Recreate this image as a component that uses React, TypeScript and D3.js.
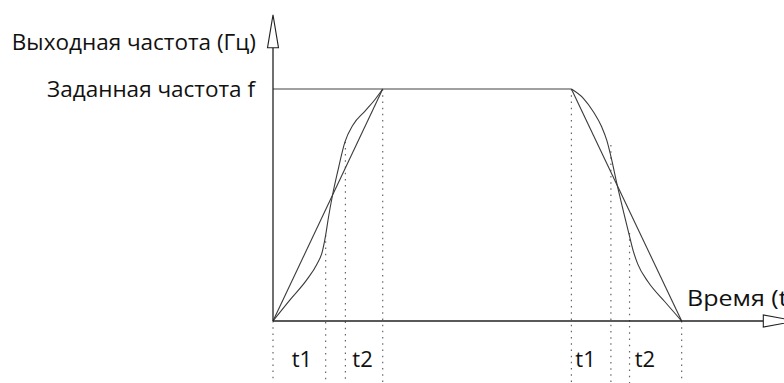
import React from 'react';
import * as d3 from 'd3';

// constants
const width = 784;
const height = 383;
const font = "'Open Sans', 'Liberation Sans', sans-serif";

// S-curve ramp, time units / % of set frequency
const riseTime = [0, 1.55, 3.07, 4.0, 4.5, 4.8, 5.05, 5.42, 5.9, 6.56, 7.29, 8.39, 9.3, 10];
const riseFreq = [0, 9.1, 17.7, 24.5, 30, 37, 44.5, 54.1, 64.5, 77.2, 84.5, 90.5, 95.5, 100];
const fallTime = [27.2, 28.29, 29.2, 29.96, 30.42, 30.88, 31.33, 31.93, 32.5, 32.85, 33.25, 34.2, 35.7, 37.25];
const fallFreq = [100, 96.0, 90.2, 83.7, 78.0, 69.4, 59.5, 47.5, 36.5, 30, 24.5, 16.8, 8.4, 0];

// straight (linear) ramps
const linRiseTime = [0, 10];
const linRiseFreq = [0, 100];
const linFallTime = [27.2, 37.25];
const linFallFreq = [100, 0];

// plateau at the set frequency
const plateauTime = [0, 27.2];
const setFreq = 100;

// dotted guides: where they start
const guideTime = [0, 4.8, 6.6, 10, 27.2, 30.8, 32.5, 37.25];
const guideFrom = [0, 37, 77.3, 100, 100, 75.9, 37.9, 0];

// phase labels
const phaseLabels = ['t1', 't2', 't1', 't2'];
const phaseTime = [2.64, 8.16, 28.49, 33.9];

const yTitle = 'Выходная частота (Гц)';
const setLabel = 'Заданная частота f';
const xTitle = 'Время (t)';

const App = () => {
  // scales
  const x = d3.scaleLinear().domain([0, 47.7]).range([273, 796.3]);
  const y = d3.scaleLinear().domain([0, 132]).range([321, 14.8]);

  const line = d3.line<[number, number]>()
    .x(d => x(d[0]))
    .y(d => y(d[1]));
  const smooth = d3.line<[number, number]>()
    .x(d => x(d[0]))
    .y(d => y(d[1]))
    .curve(d3.curveMonotoneX);

  const zip = (a: number[], b: number[]) => a.map((v, i) => [v, b[i]] as [number, number]);

  const x0 = x(0), y0 = y(0);
  const xEnd = x.range()[1], yEnd = y.range()[1];
  const arrowLen = 33, arrowHalf = 5.5;

  return (
    <svg width={width} height={height}
      style={{ position: 'absolute', left: 0, top: 0, background: '#fff' }}>
      {/* dotted guides */}
      {guideTime.map((t, i) => (
        <line key={'g' + i} x1={x(t)} x2={x(t)} y1={y(guideFrom[i])} y2={height}
          stroke="#666" strokeWidth={1.2} strokeDasharray="1.5,4.7" />
      ))}

      {/* plateau */}
      <line x1={x(plateauTime[0])} x2={x(plateauTime[1])} y1={y(setFreq)} y2={y(setFreq)}
        stroke="#808080" strokeWidth={1.6} />

      {/* linear ramps */}
      <path d={line(zip(linRiseTime, linRiseFreq)) || ''} fill="none" stroke="#3a3a3a" strokeWidth={1.1} />
      <path d={line(zip(linFallTime, linFallFreq)) || ''} fill="none" stroke="#3a3a3a" strokeWidth={1.1} />

      {/* S-curves */}
      <path d={smooth(zip(riseTime, riseFreq)) || ''} fill="none" stroke="#3a3a3a" strokeWidth={1.1} />
      <path d={smooth(zip(fallTime, fallFreq)) || ''} fill="none" stroke="#3a3a3a" strokeWidth={1.1} />

      {/* axes */}
      <line x1={x0} x2={x0} y1={y0} y2={yEnd + arrowLen} stroke="#222" strokeWidth={1.3} />
      <polygon points={`${x0},${yEnd} ${x0 - arrowHalf},${yEnd + arrowLen} ${x0 + arrowHalf},${yEnd + arrowLen}`}
        fill="#fff" stroke="#222" strokeWidth={1.1} />
      <line x1={x0} x2={xEnd - arrowLen} y1={y0} y2={y0} stroke="#222" strokeWidth={1.3} />
      <polygon points={`${xEnd},${y0} ${xEnd - arrowLen},${y0 - arrowHalf - 0.5} ${xEnd - arrowLen},${y0 + arrowHalf + 0.5}`}
        fill="#fff" stroke="#222" strokeWidth={1.1} />

      {/* texts */}
      <g fontFamily={font} fontSize={22.5} fill="#111">
        <text x={256} y={50} textAnchor="end">{yTitle}</text>
        <text x={255} y={y(setFreq) + 8} textAnchor="end">{setLabel}</text>
        <text x={687} y={306} textLength={108} lengthAdjust="spacingAndGlyphs">{xTitle}</text>
        {phaseLabels.map((s, i) => (
          <text key={'p' + i} x={x(phaseTime[i])} y={367} fontSize={22} textAnchor="middle">{s}</text>
        ))}
      </g>
    </svg>
  );
};

export default App;
